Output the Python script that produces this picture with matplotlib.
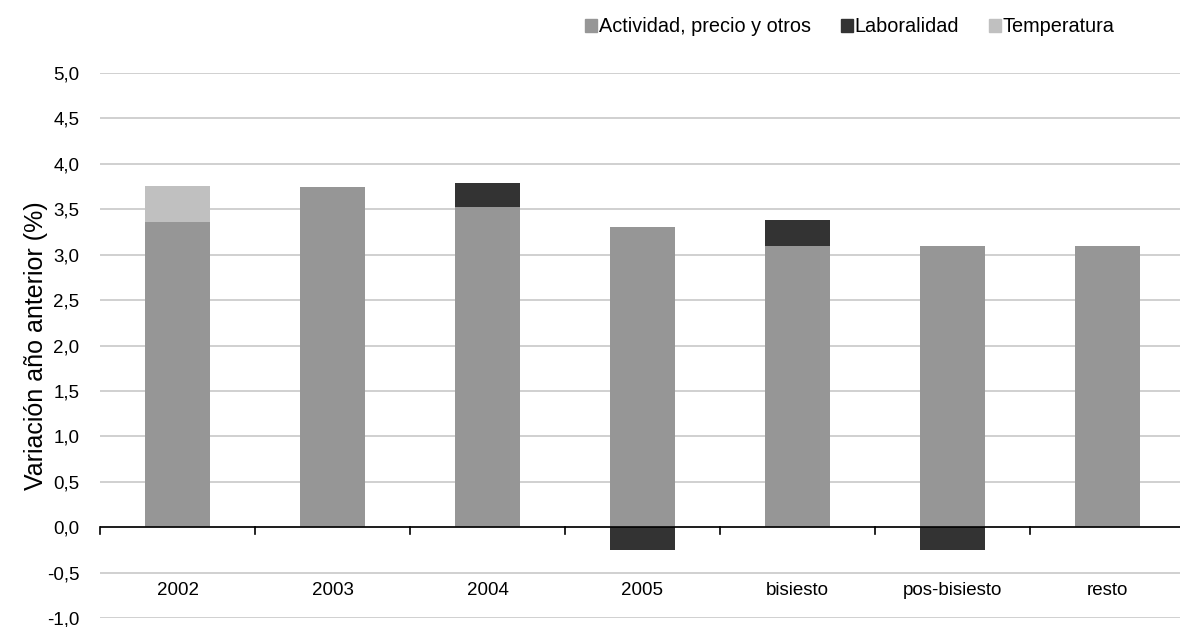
import numpy as np
import matplotlib.pyplot as plt
from matplotlib.patches import Patch

# Data
categorias = ["2002", "2003", "2004", "2005", "bisiesto", "pos-bisiesto", "resto"]
actividad = [3.36, 3.74, 3.52, 3.31, 3.10, 3.10, 3.10]
laboralidad = [0.0, 0.0, 0.27, -0.25, 0.28, -0.25, 0.0]
temperatura = [0.40, 0.0, 0.0, 0.0, 0.0, 0.0, 0.0]

col_act = "#969696"
col_lab = "#333333"
col_tem = "#c0c0c0"

plt.rcParams["font.family"] = ["Liberation Sans", "DejaVu Sans"]

fig = plt.figure(figsize=(11.8, 6.27), dpi=100)
ax = fig.add_axes([100 / 1180, 1 - 618 / 627, 1085 / 1180, (618 - 73) / 627])

x = np.arange(len(categorias))
w = 0.42
act = np.array(actividad)
lab = np.array(laboralidad)
tem = np.array(temperatura)

ax.bar(x, act, w, color=col_act, zorder=2)
# laboralidad stacks on top when positive, below zero when negative
lab_bottom = np.where(lab >= 0, act, 0)
ax.bar(x, lab, w, bottom=lab_bottom, color=col_lab, zorder=2)
ax.bar(x, tem, w, bottom=act + np.clip(lab, 0, None), color=col_tem, zorder=2)

ax.set_ylim(-1.0, 5.0)
ax.set_xlim(-0.5, len(categorias) - 0.5)
yt = np.arange(-1.0, 5.01, 0.5)
ax.set_yticks(yt)
ax.set_yticklabels([f"{v:.1f}".replace(".", ",") for v in yt], fontsize=13.5)
ax.yaxis.grid(True, color="#c8c8c8", linewidth=1.2, zorder=0)
ax.tick_params(axis="y", length=0, pad=15)
for s in ax.spines.values():
    s.set_visible(False)

# x axis at zero with tick marks between categories
ax.axhline(0, color="black", linewidth=1.2, zorder=3)
ax.set_xticks([])
for b in np.arange(-0.5, len(categorias), 1.0):
    ax.plot([b, b], [0, -0.08], color="black", linewidth=1.2, zorder=3, clip_on=False)
for i, c in enumerate(categorias):
    ax.text(i, -0.7, c, ha="center", va="center", fontsize=13.5)

ax.set_ylabel("Variación año anterior (%)", fontsize=18)
ax.yaxis.set_label_coords(-52 / 1085, 0.5)

handles = [Patch(color=col_act), Patch(color=col_lab), Patch(color=col_tem)]
labels = ["Actividad, precio y otros", "Laboralidad", "Temperatura"]
fig.legend(handles, labels, loc="center", bbox_to_anchor=(850 / 1180, 1 - 27 / 627),
           ncol=3, frameon=False, fontsize=14.3, handlelength=0.6, handleheight=0.6,
           handletextpad=0.1, columnspacing=1.5)

fig.savefig("out.png", dpi=100)
